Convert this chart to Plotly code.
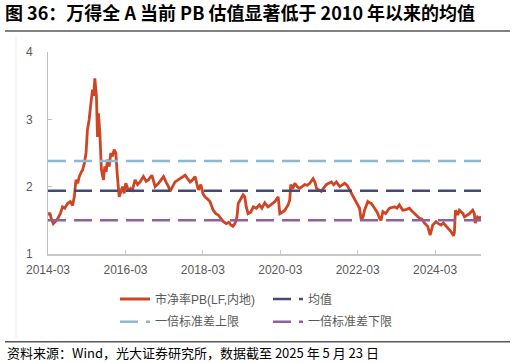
import plotly.graph_objects as go

# ---- data ----
dates = [
    "2014-03-01","2014-03-18","2014-04-02","2014-04-20","2014-05-09","2014-05-30","2014-06-25","2014-07-16",
    "2014-08-06","2014-09-02","2014-09-28","2014-10-19","2014-11-04","2014-11-20","2014-12-07","2014-12-21",
    "2015-01-10","2015-01-22","2015-02-07","2015-02-23","2015-03-08","2015-03-24","2015-04-10","2015-04-25",
    "2015-05-06","2015-05-17","2015-06-01","2015-06-11","2015-06-20","2015-07-03","2015-07-18","2015-08-06",
    "2015-08-19","2015-09-01","2015-09-13","2015-09-29","2015-10-15","2015-10-30","2015-11-15","2015-12-01",
    "2015-12-16","2016-01-02","2016-01-16","2016-02-02","2016-02-18","2016-03-04","2016-03-21","2016-04-04",
    "2016-04-18","2016-05-05","2016-05-31","2016-06-23","2016-07-17","2016-08-17","2016-09-12","2016-10-03",
    "2016-11-05","2016-11-21","2016-12-06","2017-01-07","2017-02-02","2017-02-23","2017-03-25","2017-04-11",
    "2017-04-26","2017-05-19","2017-06-12","2017-07-29","2017-09-15","2017-10-08","2017-11-01","2017-11-24",
    "2017-12-18","2018-01-18","2018-02-10","2018-03-02","2018-03-20","2018-04-13","2018-05-07","2018-06-07",
    "2018-07-02","2018-07-24","2018-08-19","2018-09-11","2018-10-09","2018-11-02","2018-11-21","2018-12-10",
    "2018-12-29","2019-01-17","2019-01-29","2019-02-14","2019-03-16","2019-04-01","2019-04-15","2019-05-02",
    "2019-05-27","2019-06-20","2019-07-20","2019-08-16","2019-09-09","2019-10-07","2019-11-05","2019-12-03",
    "2020-01-10","2020-02-10","2020-02-26","2020-03-19","2020-04-13","2020-05-13","2020-05-29","2020-06-08",
    "2020-06-27","2020-07-16","2020-08-08","2020-09-01","2020-09-25","2020-10-18","2020-11-11","2020-12-04",
    "2021-01-05","2021-01-21","2021-02-06","2021-02-28","2021-03-23","2021-04-14","2021-05-09","2021-06-01",
    "2021-06-26","2021-07-17","2021-08-12","2021-09-13","2021-10-06","2021-10-30","2021-11-22","2021-12-16",
    "2022-01-16","2022-02-17","2022-03-05","2022-03-19","2022-04-04","2022-04-21","2022-05-05","2022-06-05",
    "2022-06-21","2022-07-07","2022-08-08","2022-09-01","2022-09-24","2022-10-08","2022-10-25","2022-11-20",
    "2022-12-11","2022-12-27","2023-02-13","2023-03-07","2023-03-30","2023-04-30","2023-05-30","2023-07-02",
    "2023-07-26","2023-08-18","2023-09-11","2023-10-05","2023-10-28","2023-11-21","2023-12-22","2024-01-14",
    "2024-02-08","2024-03-10","2024-04-01","2024-04-26","2024-05-18","2024-06-13","2024-07-04","2024-07-30",
    "2024-08-21","2024-08-30","2024-09-09","2024-10-01","2024-10-16","2024-11-02","2024-11-19","2024-12-03",
    "2024-12-26","2025-01-19","2025-02-19","2025-03-06","2025-03-15","2025-04-06","2025-04-22","2025-05-08",
]
pb_values = [
    1.58,1.61,1.52,1.45,1.48,1.52,1.60,1.70,
    1.68,1.75,1.78,1.72,1.85,2.10,2.05,2.15,
    2.22,2.25,2.35,2.50,2.84,2.99,3.24,3.44,
    3.35,3.61,3.34,2.74,3.09,2.80,2.25,2.10,
    2.30,2.22,2.40,2.30,2.50,2.45,2.55,2.50,
    2.15,1.85,1.92,2.00,1.90,2.05,1.98,1.93,
    1.97,1.95,2.10,2.03,2.07,2.15,2.08,2.10,
    2.17,2.08,2.00,2.05,2.10,2.15,2.05,2.00,
    1.93,2.00,2.07,2.12,2.17,2.12,2.07,2.10,
    2.15,1.95,2.03,1.90,1.85,1.82,1.78,1.65,
    1.60,1.58,1.53,1.48,1.45,1.47,1.43,1.41,
    1.45,1.55,1.75,1.80,1.88,1.85,1.70,1.60,
    1.62,1.70,1.68,1.73,1.68,1.76,1.70,1.73,
    1.78,1.85,1.60,1.62,1.65,1.73,1.80,2.03,
    1.97,2.05,2.00,1.975,2.00,2.03,2.02,2.05,
    2.12,2.07,1.975,1.95,1.93,1.98,2.03,2.05,
    2.07,2.03,2.07,2.00,2.03,2.05,2.02,1.95,
    1.85,1.78,1.72,1.68,1.50,1.55,1.65,1.78,
    1.76,1.75,1.68,1.62,1.53,1.50,1.63,1.60,
    1.65,1.68,1.70,1.68,1.73,1.65,1.66,1.68,
    1.64,1.60,1.57,1.53,1.52,1.46,1.41,1.28,
    1.43,1.48,1.45,1.43,1.46,1.41,1.38,1.33,
    1.27,1.32,1.65,1.58,1.65,1.63,1.60,1.55,
    1.57,1.60,1.65,1.60,1.46,1.55,1.53,1.56,
]
mean_value = 1.94
upper_value = 2.38
lower_value = 1.50

series_names = ["市净率PB(LF,内地)", "均值", "一倍标准差上限", "一倍标准差下限"]
x_ticks = ["2014-03-01", "2016-03-01", "2018-03-01", "2020-03-01", "2022-03-01", "2024-03-01"]
x_tick_labels = ["2014-03", "2016-03", "2018-03", "2020-03", "2022-03", "2024-03"]
y_ticks = [1, 2, 3, 4]

title_text = "图 36：万得全 A 当前 PB 估值显著低于 2010 年以来的均值"
source_text = "资料来源：Wind，光大证券研究所，数据截至 2025 年 5 月 23 日"

# ---- figure ----
W, H = 516, 363
ML, MR, MT, MB = 48, 35, 52, 109
pw = W - ML - MR
ph = H - MT - MB

def px_x(p):
    return (p - ML) / pw

def px_y(p):
    return (H - MB - p) / ph

LAT = "Liberation Sans, Noto Sans CJK SC, sans-serif"
CJK = "Noto Sans CJK SC, Liberation Sans, sans-serif"
GRAY = "#595959"

fig = go.Figure()
x_end = [dates[0], dates[-1]]
fig.add_trace(go.Scatter(x=dates, y=pb_values, mode="lines", name=series_names[0],
                         line=dict(color="#cf4524", width=2.8), legend="legend"))
fig.add_trace(go.Scatter(x=x_end, y=[mean_value] * 2, mode="lines", name=series_names[1],
                         line=dict(color="#444a78", width=2.5, dash="18px,8px"), legend="legend"))
fig.add_trace(go.Scatter(x=x_end, y=[upper_value] * 2, mode="lines", name=series_names[2],
                         line=dict(color="#8cb8d0", width=2.5, dash="18px,8px"), legend="legend2"))
fig.add_trace(go.Scatter(x=x_end, y=[lower_value] * 2, mode="lines", name=series_names[3],
                         line=dict(color="#8f5f9f", width=2.5, dash="18px,8px"), legend="legend2"))

legend_common = dict(
    orientation="h", xanchor="left", yanchor="middle",
    x=px_x(115), entrywidth=108, entrywidthmode="pixels",
    font=dict(family=LAT, size=12, color=GRAY),
    bgcolor="rgba(0,0,0,0)", traceorder="normal",
)

fig.update_layout(
    width=W, height=H,
    margin=dict(l=ML, r=MR, t=MT, b=MB, pad=0),
    paper_bgcolor="white", plot_bgcolor="white",
    showlegend=True,
    legend=dict(y=px_y(299), **legend_common),
    legend2=dict(y=px_y(321.7), **legend_common),
    title=dict(text="<b>" + title_text + "</b>", xref="container", yref="container",
               x=5 / W, y=1 - 14 / H, xanchor="left", yanchor="middle",
               font=dict(family=CJK, size=18, color="#000000")),
    xaxis=dict(
        type="date", range=[dates[0], dates[-1]],
        tickvals=x_ticks, ticktext=x_tick_labels,
        showgrid=False, zeroline=False,
        showline=True, linecolor="#c8c8c8", linewidth=1.5,
        ticks="inside", ticklen=4, tickcolor="#c8c8c8", tickwidth=1,
        tickfont=dict(family=LAT, size=12, color=GRAY),
        ticklabelstandoff=4,
    ),
    yaxis=dict(
        range=[1, 4], tickvals=y_ticks,
        showgrid=False, zeroline=False,
        showline=True, linecolor="#bfbfbf", linewidth=1,
        ticks="inside", ticklen=4, tickcolor="#bfbfbf", tickwidth=1,
        tickfont=dict(family=LAT, size=12, color=GRAY),
        ticklabelstandoff=12,
    ),
    shapes=[
        dict(type="line", xref="paper", yref="paper", x0=px_x(5), x1=px_x(510),
             y0=px_y(31), y1=px_y(31), line=dict(color="#595959", width=1.5)),
        dict(type="line", xref="paper", yref="paper", x0=px_x(5), x1=px_x(510),
             y0=px_y(341.7), y1=px_y(341.7), line=dict(color="#595959", width=1.5)),
        dict(type="line", xref="paper", yref="paper", x0=px_x(16), x1=px_x(16),
             y0=px_y(37), y1=px_y(338), line=dict(color="#ececec", width=1)),
    ],
    annotations=[
        dict(text=source_text, xref="paper", yref="paper", x=px_x(5), y=px_y(352),
             xanchor="left", yanchor="middle", showarrow=False,
             font=dict(family=CJK, size=13, color="#000000")),
    ],
)

fig.write_html(
    "out.html",
    config={"displayModeBar": False},
    post_script="document.body.style.margin='0';document.body.style.padding='0';"
                "document.documentElement.style.overflow='hidden';",
)
